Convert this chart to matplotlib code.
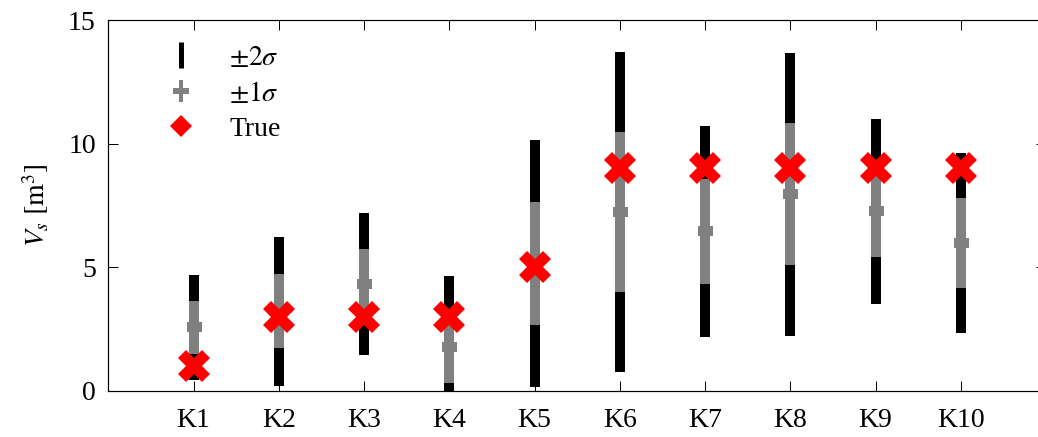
import numpy as np
import matplotlib
matplotlib.use('Agg')
import matplotlib.pyplot as plt
from matplotlib.lines import Line2D

plt.rcParams['font.family'] = ['Liberation Serif', 'DejaVu Serif']
plt.rcParams['mathtext.fontset'] = 'stix'

# sample volume estimates per case: mean, standard deviation and true value
cases = ['K1', 'K2', 'K3', 'K4', 'K5', 'K6', 'K7', 'K8', 'K9', 'K10']
mean_vs = [2.57, 3.22, 4.33, 1.77, 5.15, 7.23, 6.45, 7.96, 7.27, 6.00]
sigma_vs = [1.07, 1.50, 1.43, 1.44, 2.49, 3.24, 2.13, 2.86, 1.87, 1.82]
true_vs = [1, 3, 3, 3, 5, 9, 9, 9, 9, 9]

DPI = 100
PT = 72.0 / DPI  # pixels -> points
GRAY = '#808080'
FS = 20

fig = plt.figure(figsize=(10.38, 4.37), dpi=DPI)
ax = fig.add_axes([108.3 / 1038, 1 - 391 / 437, 937.7 / 1038, 371 / 437])

x = np.arange(1, len(cases) + 1)
mu = np.array(mean_vs)
sd = np.array(sigma_vs)

# +-2 sigma in black, +-1 sigma in gray on top
for xi, m, s in zip(x, mu, sd):
    ax.plot([xi, xi], [m - 2 * s, m + 2 * s], color='black',
            lw=10 * PT, solid_capstyle='butt', zorder=2)
    ax.plot([xi, xi], [m - s, m + s], color=GRAY,
            lw=10 * PT, solid_capstyle='butt', zorder=3)
ax.plot(x, mu, ls='none', marker='_', color=GRAY, ms=15 * PT,
        mew=10 * PT, zorder=4)
ax.plot(x, true_vs, ls='none', marker='X', color='red', ms=32 * PT,
        mew=0, zorder=5)

ax.set_xlim(0, 11)
ax.set_ylim(0, 15)
ax.set_xticks(x)
ax.set_xticklabels(cases)
ax.set_yticks([0, 5, 10, 15])
ax.tick_params(direction='in', length=10 * PT, width=1 * PT, labelsize=FS,
               top=True, right=True)
ax.tick_params(axis='x', pad=12)
ax.tick_params(axis='y', pad=9)
for sp in ax.spines.values():
    sp.set_linewidth(1.2 * PT)
ax.spines['right'].set_visible(False)
ax.set_ylabel(r'$V_s\ [\mathrm{m}^3]$', fontsize=FS, labelpad=12)

h2 = Line2D([], [], ls='none', marker='|', color='black', ms=26 * PT, mew=5 * PT)
h1a = Line2D([], [], ls='none', marker='|', color=GRAY, ms=22 * PT, mew=4 * PT)
h1b = Line2D([], [], ls='none', marker='_', color=GRAY, ms=16 * PT, mew=6 * PT)
ht = Line2D([], [], ls='none', marker='D', color='red', ms=15 * PT, mew=0)
ax.legend([h2, (h1a, h1b), ht], [r'$\pm2\sigma$', r'$\pm1\sigma$', 'True'],
          loc='upper left', bbox_to_anchor=(0.0564, 0.932), frameon=False,
          fontsize=FS, handlelength=1.45, handletextpad=1.0, borderpad=0,
          borderaxespad=0, labelspacing=0.36)

fig.savefig('out.png', dpi=DPI)
